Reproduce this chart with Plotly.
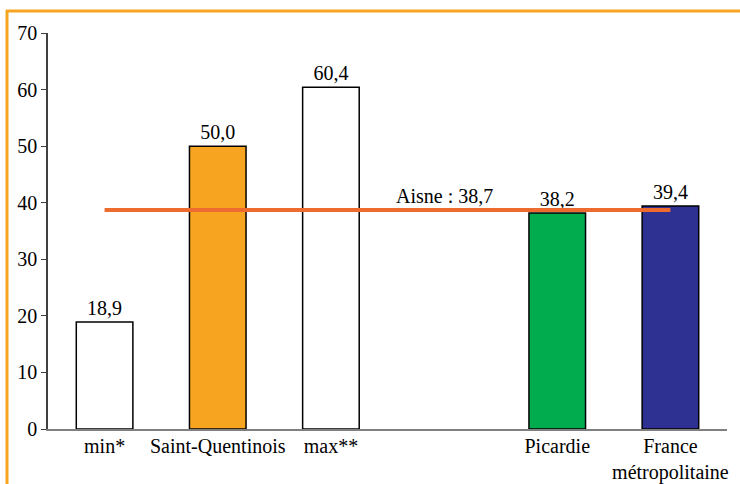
import plotly.graph_objects as go

categories = ["min*", "Saint-Quentinois", "max**", " ", "Picardie", "France<br>métropolitaine"]
values = [18.9, 50.0, 60.4, None, 38.2, 39.4]
bar_colors = ["#FFFFFF", "#F7A521", "#FFFFFF", "#FFFFFF", "#00AC4E", "#2E3192"]
aisne_value = 38.7
aisne_label = "Aisne : 38,7"
y_ticks = [0, 10, 20, 30, 40, 50, 60, 70]
header_text = "(pour 1 000 habitants âgés)"

FONT = "Liberation Serif"
FS = 20
ORANGE = "#F7A521"

texts = ["" if v is None else f"{v:.1f}".replace(".", ",") for v in values]

fig = go.Figure()
fig.add_trace(go.Bar(
    x=categories, y=values,
    marker=dict(color=bar_colors, line=dict(color="#000000", width=1.5)),
    width=0.5,
    text=texts, textposition="outside", cliponaxis=False,
    textfont=dict(family=FONT, size=FS, color="#000000"),
    hoverinfo="skip",
))
fig.add_trace(go.Scatter(
    x=[categories[0], categories[-1]], y=[aisne_value, aisne_value],
    mode="lines", line=dict(color="#EE6B2F", width=4),
    hoverinfo="skip",
))
fig.add_annotation(
    x=categories[3], y=aisne_value, xref="x", yref="y",
    text=aisne_label, showarrow=False, yanchor="bottom", yshift=1,
    font=dict(family=FONT, size=FS, color="#000000"),
)
fig.add_annotation(
    x=(740 - 48) / 679, y=(429 - 3) / 396, xref="paper", yref="paper",
    text="<b>" + header_text + "</b>", showarrow=False,
    xanchor="right", yanchor="bottom",
    font=dict(family=FONT, size=18, color="#000000"),
)
# orange frame
fig.add_shape(type="line", xref="paper", yref="paper",
              x0=(7 - 48) / 679, x1=(7 - 48) / 679, y0=(429 - 484) / 396, y1=(429 - 10) / 396,
              line=dict(color=ORANGE, width=3))
fig.add_shape(type="line", xref="paper", yref="paper",
              x0=(6 - 48) / 679, x1=(745 - 48) / 679, y0=(429 - 11) / 396, y1=(429 - 11) / 396,
              line=dict(color=ORANGE, width=3))

fig.update_layout(
    width=740, height=484,
    margin=dict(l=48, r=13, t=33, b=55, autoexpand=False),
    plot_bgcolor="#FFFFFF", paper_bgcolor="#FFFFFF",
    showlegend=False, bargap=0.5,
    font=dict(family=FONT, size=FS, color="#000000"),
)
fig.update_xaxes(
    type="category", categoryorder="array", categoryarray=categories,
    showline=True, linecolor="#808080", linewidth=2,
    ticks="", showgrid=False, zeroline=False, automargin=False,
    ticklabelstandoff=-2,
    tickfont=dict(family=FONT, size=FS, color="#000000"),
)
fig.update_yaxes(
    range=[0, 70], tickvals=y_ticks, showgrid=False, zeroline=False,
    showline=True, linecolor="#404040", linewidth=1.5, automargin=False,
    ticks="outside", ticklen=5, tickcolor="#404040",
    tickfont=dict(family=FONT, size=FS, color="#000000"),
)

fig.write_html("out.html", config={"displayModeBar": False},
               post_script="document.body.style.margin='0px';")
